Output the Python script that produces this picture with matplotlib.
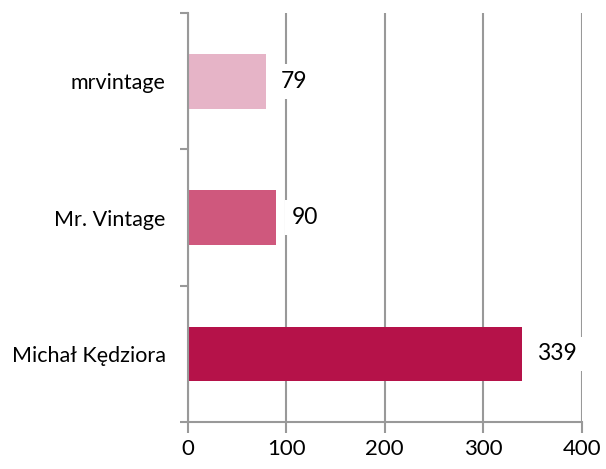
import matplotlib.pyplot as plt

# donnees
noms = ['Michał Kędziora', 'Mr. Vintage', 'mrvintage']
valeurs = [339, 90, 79]
couleurs = ['#B51249', '#CF587D', '#E6B4C7']
xticks = [0, 100, 200, 300, 400]

plt.rcParams['font.family'] = ['Lato', 'DejaVu Sans']

fig = plt.figure(figsize=(6.06, 4.69), dpi=100)
ax = fig.add_axes([0.310, 0.100, 0.650, 0.872])

pos = list(range(len(noms)))
ax.barh(pos, valeurs, height=0.4, color=couleurs, zorder=2)

for p, v in zip(pos, valeurs):
    ax.annotate(str(v), (v, p), xytext=(11, 0), textcoords='offset points',
                va='center', ha='left', fontsize=16.5, color='black', zorder=3,
                bbox=dict(boxstyle='square,pad=0.3', fc='white', ec='none'))

ax.set_xlim(0, 400)
ax.set_ylim(-0.5, len(noms) - 0.5)
ax.set_xticks(xticks)
ax.set_xticklabels([str(t) for t in xticks], fontsize=16)
ax.set_yticks([p - 0.5 for p in pos] + [len(noms) - 0.5])
ax.set_yticklabels([])
ax.set_yticks(pos, minor=True)
ax.set_yticklabels(noms, minor=True, fontsize=15.5)
ax.tick_params(axis='y', which='minor', length=0, pad=16)
ax.tick_params(axis='y', which='major', length=6, color='#999999', width=1.5)
ax.tick_params(axis='x', length=8, color='#999999', width=1.5, pad=4)

ax.grid(axis='x', color='#999999', linewidth=1.5, zorder=1)
for s in ['top', 'right']:
    ax.spines[s].set_visible(False)
for s in ['left', 'bottom']:
    ax.spines[s].set_color('#999999')
    ax.spines[s].set_linewidth(1.5)

plt.savefig('out.png', dpi=100)
